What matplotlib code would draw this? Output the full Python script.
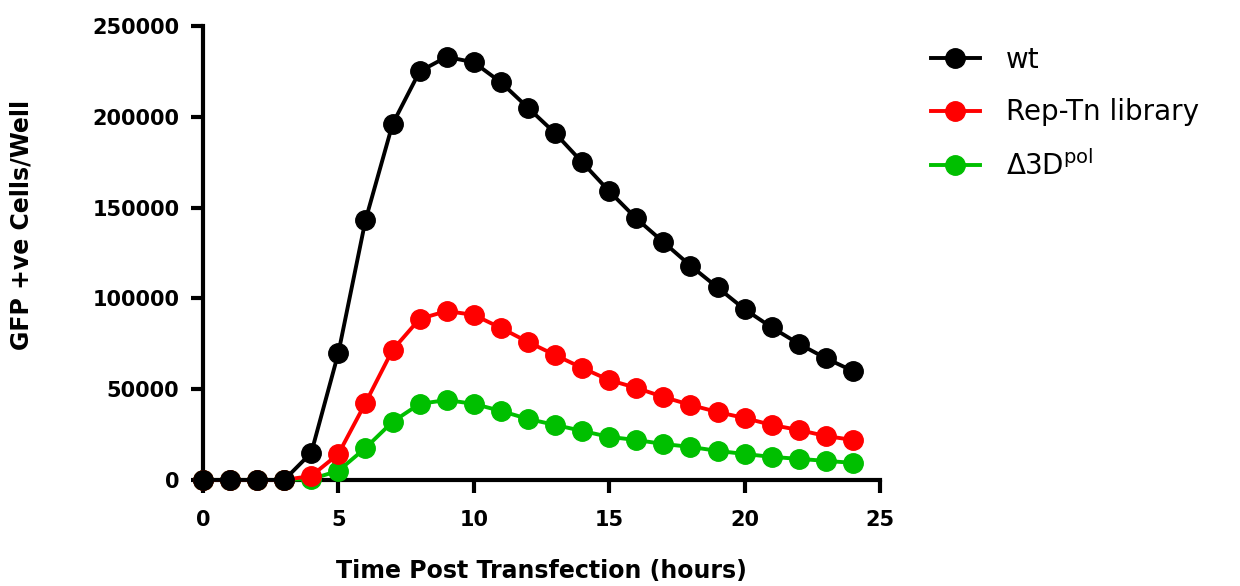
import matplotlib
matplotlib.use('Agg')
import matplotlib.pyplot as plt

plt.rcParams['font.family'] = ['DejaVu Sans']
plt.rcParams['mathtext.fontset'] = 'dejavusans'

# hours after transfection
hours = list(range(0, 25))

# GFP positive cells per well
wt = [0, 0, 0, 0, 15000, 70000, 143000, 196000, 225000, 233000, 230000,
      219000, 205000, 191000, 175000, 159000, 144000, 131000, 118000,
      106000, 94000, 84000, 75000, 67000, 60000]
rep_tn = [0, 0, 0, 0, 2200, 14300, 42400, 71600, 88700, 93000, 90900,
          83700, 76000, 68800, 61700, 55000, 50700, 45700, 41300, 37400,
          34100, 30300, 27500, 24200, 22000]
d3dpol = [0, 0, 0, 0, 500, 5000, 17600, 32000, 41900, 44000, 41900,
          38000, 33600, 30300, 27000, 23700, 22000, 19800, 18200, 16000,
          14300, 12700, 11600, 10500, 9400]

labels = ['wt', 'Rep-Tn library', '\u0394' + '3D$^{\\rm pol}$']
colors = ['#000000', '#ff0000', '#00bf00']

fig = plt.figure(figsize=(12.4, 5.86), dpi=100)
ax = fig.add_axes([0.1637, 0.181, 0.546, 0.7746])

series = [wt, rep_tn, d3dpol]
zs = [5, 4, 3]
for vals, lab, col, z in zip(series, labels, colors, zs):
    ax.plot(hours, vals, '-o', color=col, label=lab, lw=2.8, ms=14,
            clip_on=False, zorder=z)

ax.set_xlim(0, 25)
ax.set_ylim(0, 250000)
ax.set_xticks([0, 5, 10, 15, 20, 25])
ax.set_yticks([0, 50000, 100000, 150000, 200000, 250000])

for s in ['top', 'right']:
    ax.spines[s].set_visible(False)
for s in ['left', 'bottom']:
    ax.spines[s].set_linewidth(3)
ax.tick_params(width=3, length=9, labelsize=15)
ax.tick_params(axis='x', pad=13)
ax.tick_params(axis='y', pad=8)
for t in ax.get_xticklabels() + ax.get_yticklabels():
    t.set_fontweight('bold')

ax.set_xlabel('Time Post Transfection (hours)', fontsize=17,
              fontweight='bold')
ax.xaxis.set_label_coords(0.5, -0.174)
ax.set_ylabel('GFP +ve Cells/Well', fontsize=17, fontweight='bold')
ax.yaxis.set_label_coords(-0.251, 0.562)

leg = ax.legend(loc='upper left', bbox_to_anchor=(1.059, 0.98), frameon=False,
                fontsize=20, handlelength=1.75, labelspacing=0.87,
                handletextpad=0.95, borderaxespad=0)

fig.savefig('out.png', dpi=100)
